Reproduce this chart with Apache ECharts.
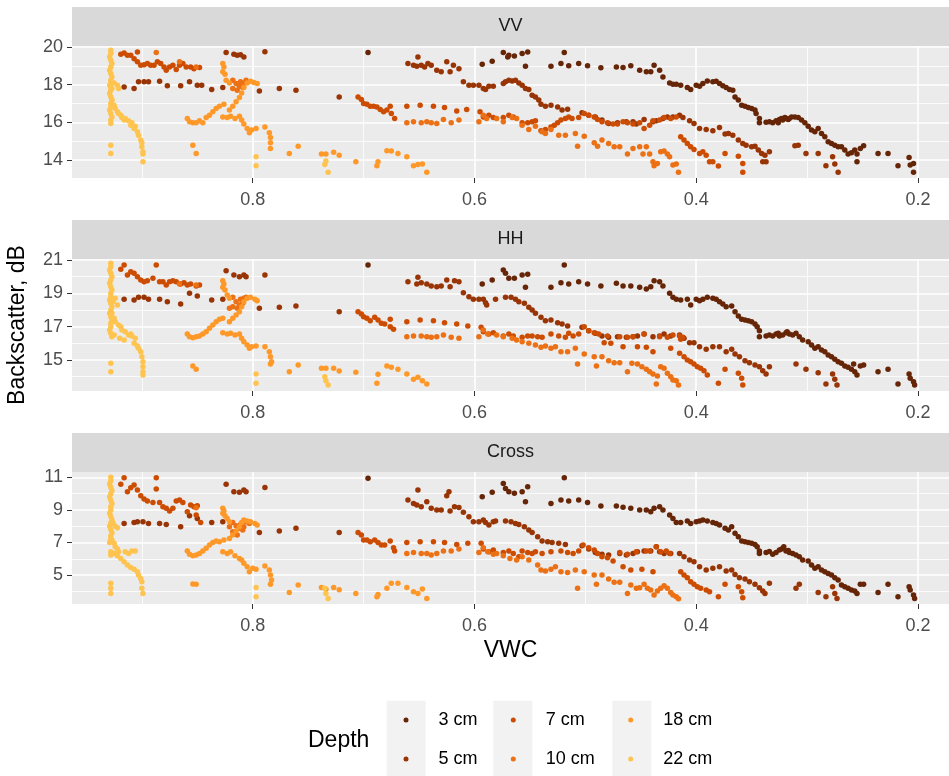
<!DOCTYPE html>
<html>
<head>
<meta charset="utf-8">
<title>Backscatter vs VWC</title>
<script src="https://cdn.jsdelivr.net/npm/echarts@6/dist/echarts.min.js"></script>
<style>
  html, body { margin: 0; padding: 0; background: #fff; }
  #main { width: 949px; height: 776px; }
</style>
</head>
<body>
<div id="main"></div>
<script>
// ---- VV panel: [VWC, backscatter dB] per depth
var vv3 = [[0.696,19.70],[0.593,19.08],[0.584,19.24],[0.574,19.70],[0.570,19.47],[0.569,19.56],[0.564,19.52],[0.557,19.65],[0.552,19.73],[0.554,18.98],[0.531,18.98],[0.522,19.12],[0.519,19.70],[0.515,19.00],[0.506,19.12],[0.498,19.00],[0.486,18.89],[0.472,18.94],[0.466,18.91],[0.459,19.00],[0.451,18.76],[0.445,18.68],[0.441,18.68],[0.438,19.03],[0.433,18.76],[0.430,18.41],[0.424,18.09],[0.421,18.02],[0.418,18.02],[0.414,17.97],[0.408,17.85],[0.405,17.74],[0.400,17.97],[0.397,17.92],[0.394,18.06],[0.390,18.20],[0.385,18.15],[0.382,18.18],[0.379,18.06],[0.376,17.94],[0.373,17.85],[0.370,17.74],[0.367,17.71],[0.365,17.35],[0.362,17.18],[0.359,16.91],[0.356,16.86],[0.353,16.79],[0.350,16.74],[0.347,16.65],[0.346,16.47],[0.343,16.21],[0.343,15.98],[0.337,16.00],[0.334,16.03],[0.331,15.98],[0.328,16.08],[0.326,15.98],[0.325,16.15],[0.323,16.21],[0.322,16.12],[0.320,16.26],[0.319,16.21],[0.317,16.15],[0.316,16.21],[0.314,16.29],[0.311,16.29],[0.308,16.26],[0.305,16.12],[0.302,15.98],[0.299,15.80],[0.296,15.59],[0.293,15.50],[0.290,15.68],[0.287,15.41],[0.284,15.24],[0.281,14.97],[0.278,14.88],[0.275,14.79],[0.272,14.71],[0.269,14.71],[0.266,14.53],[0.263,14.32],[0.260,14.39],[0.257,14.53],[0.255,14.32],[0.252,14.62],[0.249,14.76],[0.255,13.91],[0.236,14.35],[0.227,14.35],[0.218,13.70],[0.208,14.14],[0.207,13.74],[0.204,13.82],[0.204,13.35]];
var vv5 = [[0.824,19.70],[0.817,19.61],[0.814,19.56],[0.811,19.59],[0.808,19.47],[0.789,19.74],[0.916,17.88],[0.907,17.79],[0.903,18.15],[0.898,18.15],[0.894,18.15],[0.884,18.18],[0.877,17.94],[0.865,17.94],[0.857,18.15],[0.850,17.97],[0.846,17.97],[0.837,17.74],[0.827,17.85],[0.794,17.67],[0.776,17.79],[0.761,17.71],[0.722,17.35],[0.660,19.12],[0.655,19.03],[0.651,19.47],[0.652,18.98],[0.648,19.03],[0.645,18.94],[0.642,19.12],[0.639,19.03],[0.634,18.76],[0.630,18.68],[0.625,19.21],[0.622,18.68],[0.619,19.03],[0.614,18.85],[0.610,18.15],[0.605,17.97],[0.601,17.97],[0.596,17.97],[0.592,17.79],[0.587,17.92],[0.583,17.92],[0.574,18.06],[0.590,17.74],[0.572,18.15],[0.569,18.24],[0.566,18.20],[0.563,18.24],[0.560,18.09],[0.557,17.97],[0.554,17.79],[0.551,17.74],[0.548,17.44],[0.545,17.35],[0.542,17.18],[0.540,16.96],[0.536,16.86],[0.531,16.91],[0.525,16.82],[0.521,16.65],[0.516,16.70],[0.503,16.51],[0.497,16.38],[0.491,16.29],[0.485,16.12],[0.479,15.94],[0.471,15.98],[0.463,16.03],[0.457,16.03],[0.454,15.91],[0.447,16.15],[0.439,16.03],[0.436,16.08],[0.430,16.21],[0.426,16.29],[0.421,16.29],[0.415,16.38],[0.412,16.26],[0.406,16.08],[0.402,15.94],[0.397,15.68],[0.391,15.62],[0.385,15.55],[0.379,15.73],[0.374,15.38],[0.371,15.41],[0.367,15.32],[0.362,15.06],[0.358,14.88],[0.355,14.79],[0.350,14.71],[0.347,14.74],[0.344,14.53],[0.341,14.35],[0.338,14.26],[0.334,14.44],[0.340,13.91],[0.337,13.91],[0.311,14.76],[0.308,14.79],[0.301,14.35],[0.290,14.35],[0.283,13.70],[0.277,14.18],[0.275,13.79],[0.272,13.35]];
var vv7 = [[0.919,19.61],[0.916,19.68],[0.913,19.56],[0.910,19.56],[0.907,19.38],[0.904,19.73],[0.904,19.21],[0.901,19.03],[0.898,19.06],[0.895,19.12],[0.892,19.03],[0.889,19.03],[0.886,19.21],[0.883,19.12],[0.880,18.94],[0.878,18.76],[0.875,18.94],[0.872,19.03],[0.869,18.80],[0.866,19.03],[0.863,19.12],[0.860,18.94],[0.856,18.94],[0.853,18.85],[0.848,18.91],[0.705,17.35],[0.702,17.21],[0.700,17.00],[0.697,16.96],[0.694,16.86],[0.691,16.86],[0.688,16.82],[0.685,16.68],[0.682,16.56],[0.679,16.65],[0.676,16.86],[0.675,16.47],[0.672,16.21],[0.661,16.86],[0.649,16.91],[0.637,16.86],[0.627,16.79],[0.616,16.60],[0.607,16.68],[0.595,16.56],[0.592,16.29],[0.587,16.38],[0.583,16.26],[0.574,16.26],[0.569,16.38],[0.565,16.29],[0.557,15.98],[0.552,15.98],[0.548,16.03],[0.545,16.08],[0.540,15.55],[0.536,15.62],[0.531,15.76],[0.528,15.85],[0.525,15.98],[0.522,16.12],[0.518,16.21],[0.515,16.29],[0.512,16.21],[0.506,16.26],[0.501,16.47],[0.497,16.38],[0.492,16.29],[0.489,16.15],[0.485,16.03],[0.480,15.98],[0.475,15.91],[0.471,15.91],[0.466,16.03],[0.462,15.98],[0.457,15.91],[0.451,15.98],[0.447,15.68],[0.442,15.85],[0.439,16.08],[0.433,16.12],[0.429,16.26],[0.423,16.21],[0.418,16.29],[0.414,15.24],[0.411,15.06],[0.408,14.88],[0.405,14.71],[0.402,14.56],[0.397,14.35],[0.394,14.44],[0.391,14.26],[0.388,13.91],[0.385,13.91],[0.380,13.68],[0.374,14.35],[0.362,14.21],[0.358,13.82],[0.358,13.35]];
var vv10 = [[0.818,18.24],[0.815,18.06],[0.812,17.92],[0.811,18.15],[0.809,17.85],[0.808,18.06],[0.806,18.24],[0.814,17.71],[0.818,17.79],[0.887,19.70],[0.866,19.21],[0.851,18.94],[0.661,15.98],[0.655,16.03],[0.648,15.98],[0.643,16.03],[0.639,15.98],[0.634,15.94],[0.628,16.15],[0.621,15.98],[0.614,16.12],[0.596,16.03],[0.592,16.38],[0.589,16.21],[0.580,16.21],[0.574,16.03],[0.566,16.26],[0.562,16.21],[0.557,15.85],[0.551,15.62],[0.545,15.80],[0.539,15.50],[0.536,15.41],[0.531,15.62],[0.524,15.32],[0.518,15.32],[0.509,15.41],[0.507,14.74],[0.501,15.27],[0.492,14.92],[0.489,14.74],[0.485,15.06],[0.479,14.88],[0.474,14.71],[0.469,14.71],[0.462,14.32],[0.457,14.62],[0.451,14.71],[0.448,14.32],[0.445,14.71],[0.442,14.32],[0.439,13.91],[0.438,13.70],[0.435,13.82],[0.432,14.44],[0.429,14.48],[0.426,14.32],[0.424,14.18],[0.421,13.74],[0.418,13.79],[0.416,13.35]];
var vv18 = [[0.854,14.79],[0.851,14.35],[0.859,16.20],[0.857,16.03],[0.854,15.98],[0.851,15.98],[0.848,16.08],[0.845,15.98],[0.842,16.26],[0.839,16.38],[0.836,16.56],[0.833,16.74],[0.830,16.86],[0.826,16.96],[0.821,16.65],[0.818,16.86],[0.815,17.09],[0.812,17.32],[0.810,17.56],[0.808,17.85],[0.805,18.09],[0.802,18.18],[0.799,18.11],[0.796,18.06],[0.827,16.29],[0.823,16.26],[0.820,16.33],[0.816,16.21],[0.812,16.33],[0.810,16.12],[0.808,15.91],[0.805,15.68],[0.803,15.45],[0.801,15.59],[0.797,15.68],[0.789,15.76],[0.785,15.45],[0.784,15.20],[0.784,14.92],[0.784,14.62],[0.767,14.35],[0.759,14.74],[0.738,14.32],[0.734,14.32],[0.727,14.42],[0.722,14.26],[0.707,13.91],[0.688,13.70],[0.687,13.91],[0.679,14.49],[0.675,14.48],[0.669,14.35],[0.661,14.18],[0.655,13.70],[0.651,13.77],[0.647,13.79],[0.643,13.35],[0.827,19.12],[0.826,18.94],[0.827,18.68],[0.825,18.55],[0.824,18.24],[0.821,18.09]];
var vv22 = [[0.928,19.82],[0.928,19.65],[0.929,19.47],[0.928,19.29],[0.927,19.12],[0.928,18.94],[0.929,18.76],[0.928,18.59],[0.927,18.41],[0.928,18.24],[0.928,18.06],[0.929,17.97],[0.928,17.88],[0.927,17.79],[0.928,17.71],[0.929,17.53],[0.928,17.35],[0.927,17.18],[0.928,17.00],[0.928,16.82],[0.929,16.65],[0.928,16.47],[0.927,16.29],[0.928,16.12],[0.928,15.94],[0.928,14.79],[0.928,14.35],[0.925,18.09],[0.922,17.97],[0.921,17.79],[0.927,17.18],[0.925,16.91],[0.924,16.74],[0.922,16.56],[0.921,16.47],[0.919,16.38],[0.918,16.26],[0.916,16.12],[0.915,16.21],[0.912,16.08],[0.910,15.85],[0.909,15.98],[0.907,15.68],[0.906,15.80],[0.904,15.50],[0.903,15.32],[0.901,15.06],[0.900,14.92],[0.900,14.71],[0.899,14.44],[0.899,14.32],[0.899,13.91],[0.797,14.18],[0.797,13.70],[0.735,13.77],[0.734,13.95],[0.732,13.35]];

// ---- HH panel
var hh3 = [[0.696,20.70],[0.593,19.56],[0.584,19.80],[0.574,20.40],[0.572,20.20],[0.569,19.90],[0.564,19.90],[0.557,20.10],[0.552,20.14],[0.554,19.36],[0.531,19.36],[0.522,19.64],[0.519,20.70],[0.515,19.56],[0.506,19.70],[0.498,19.56],[0.486,19.44],[0.472,19.60],[0.466,19.44],[0.459,19.44],[0.451,19.36],[0.445,19.26],[0.441,19.40],[0.438,19.76],[0.433,19.70],[0.430,19.44],[0.424,19.00],[0.421,18.76],[0.418,18.64],[0.414,18.60],[0.408,18.64],[0.405,18.30],[0.400,18.64],[0.397,18.56],[0.394,18.64],[0.390,18.76],[0.385,18.70],[0.382,18.64],[0.379,18.50],[0.376,18.36],[0.373,18.20],[0.368,18.24],[0.365,17.90],[0.362,17.64],[0.359,17.44],[0.356,17.40],[0.353,17.36],[0.350,17.30],[0.347,17.16],[0.345,17.00],[0.343,16.76],[0.343,16.40],[0.337,16.44],[0.334,16.50],[0.331,16.44],[0.328,16.56],[0.326,16.60],[0.325,16.44],[0.322,16.50],[0.319,16.64],[0.318,16.70],[0.316,16.56],[0.313,16.50],[0.310,16.60],[0.307,16.40],[0.304,16.20],[0.299,16.10],[0.296,15.90],[0.293,15.70],[0.290,15.80],[0.287,15.60],[0.284,15.50],[0.281,15.30],[0.278,15.20],[0.275,15.04],[0.272,14.90],[0.269,14.80],[0.266,14.64],[0.263,14.56],[0.260,14.44],[0.257,14.30],[0.255,14.10],[0.258,14.76],[0.252,14.64],[0.249,14.70],[0.236,14.30],[0.227,14.44],[0.218,13.56],[0.208,14.16],[0.207,13.90],[0.204,13.70],[0.203,13.50]];
var hh5 = [[0.824,20.36],[0.817,20.10],[0.812,20.00],[0.808,20.10],[0.806,20.00],[0.789,20.10],[0.916,18.64],[0.907,18.60],[0.903,18.76],[0.898,18.76],[0.894,18.64],[0.884,18.64],[0.877,18.50],[0.865,18.36],[0.857,19.00],[0.850,18.84],[0.837,18.60],[0.827,18.64],[0.794,18.10],[0.776,18.16],[0.761,18.24],[0.722,17.90],[0.660,19.70],[0.651,19.96],[0.652,19.56],[0.648,19.64],[0.643,19.56],[0.639,19.44],[0.634,19.40],[0.630,19.44],[0.625,19.80],[0.622,19.40],[0.618,19.76],[0.614,19.70],[0.610,19.04],[0.605,18.80],[0.601,18.64],[0.596,18.64],[0.592,18.64],[0.589,18.30],[0.590,18.44],[0.581,18.64],[0.572,18.76],[0.567,18.76],[0.563,18.64],[0.560,18.50],[0.555,18.40],[0.551,18.16],[0.548,18.00],[0.545,17.80],[0.540,17.56],[0.536,17.36],[0.531,17.40],[0.525,17.24],[0.521,17.16],[0.516,17.04],[0.503,16.96],[0.497,16.76],[0.491,16.60],[0.485,16.44],[0.479,16.36],[0.471,16.40],[0.463,16.36],[0.457,16.40],[0.453,16.44],[0.447,16.56],[0.439,16.40],[0.433,16.44],[0.429,16.56],[0.423,16.44],[0.415,16.50],[0.411,16.30],[0.406,16.04],[0.402,16.04],[0.397,15.80],[0.391,15.64],[0.385,15.80],[0.379,15.80],[0.373,15.50],[0.368,15.64],[0.365,15.36],[0.361,15.20],[0.356,14.96],[0.352,14.84],[0.347,14.70],[0.343,14.60],[0.340,14.36],[0.337,14.16],[0.334,14.60],[0.310,14.76],[0.301,14.44],[0.290,14.24],[0.283,13.56],[0.277,14.16],[0.275,13.84],[0.273,13.50]];
var hh7 = [[0.919,20.44],[0.916,20.70],[0.913,20.10],[0.910,20.30],[0.907,20.20],[0.904,20.00],[0.901,19.80],[0.898,19.70],[0.895,19.76],[0.890,19.90],[0.887,20.70],[0.884,19.70],[0.881,19.70],[0.878,19.50],[0.875,19.70],[0.872,19.76],[0.869,19.70],[0.865,19.56],[0.862,19.64],[0.859,19.50],[0.856,19.56],[0.851,19.44],[0.848,19.50],[0.705,17.90],[0.702,17.76],[0.700,17.60],[0.697,17.50],[0.694,17.36],[0.690,17.56],[0.687,17.40],[0.684,17.20],[0.681,17.16],[0.676,17.00],[0.673,16.84],[0.676,17.44],[0.661,17.30],[0.649,17.40],[0.637,17.36],[0.627,17.24],[0.616,17.16],[0.606,17.04],[0.594,16.96],[0.592,16.70],[0.587,16.56],[0.583,16.64],[0.574,16.44],[0.569,16.56],[0.565,16.44],[0.557,16.36],[0.552,16.44],[0.548,16.44],[0.543,16.40],[0.539,16.36],[0.531,16.56],[0.524,16.44],[0.518,16.36],[0.515,16.60],[0.511,16.44],[0.506,16.56],[0.501,17.00],[0.497,16.76],[0.492,16.64],[0.488,16.56],[0.483,16.04],[0.480,16.44],[0.477,16.00],[0.469,16.40],[0.466,15.80],[0.462,16.36],[0.457,16.40],[0.453,15.80],[0.447,16.56],[0.445,15.76],[0.439,15.50],[0.433,16.40],[0.426,16.36],[0.423,15.70],[0.421,16.50],[0.415,16.44],[0.414,16.24],[0.412,16.36],[0.415,15.40],[0.411,15.20],[0.408,15.00],[0.405,14.90],[0.402,14.76],[0.399,14.60],[0.396,14.50],[0.393,14.36],[0.390,14.10],[0.374,14.44],[0.362,14.20],[0.359,13.90],[0.358,13.50],[0.380,13.60]];
var hh10 = [[0.818,18.76],[0.815,18.50],[0.812,18.30],[0.811,18.64],[0.809,18.40],[0.808,18.70],[0.806,18.76],[0.814,18.10],[0.818,18.20],[0.821,18.10],[0.866,19.56],[0.851,19.50],[0.661,16.40],[0.655,16.44],[0.648,16.44],[0.643,16.40],[0.639,16.36],[0.634,16.40],[0.628,16.50],[0.621,16.36],[0.614,16.30],[0.596,16.40],[0.592,16.80],[0.588,16.56],[0.580,16.50],[0.574,16.40],[0.566,16.30],[0.562,16.20],[0.557,16.10],[0.551,16.00],[0.545,15.90],[0.540,15.76],[0.536,15.84],[0.531,15.70],[0.527,15.80],[0.522,15.50],[0.516,15.50],[0.509,15.70],[0.507,14.76],[0.501,15.36],[0.492,15.20],[0.490,14.64],[0.485,15.20],[0.479,14.96],[0.474,14.84],[0.469,14.84],[0.462,14.30],[0.458,14.80],[0.453,14.76],[0.449,14.60],[0.445,14.44],[0.442,14.30],[0.439,14.16],[0.436,13.56],[0.435,14.04],[0.432,14.60],[0.429,14.50],[0.426,14.20],[0.423,14.00],[0.421,13.80],[0.418,13.76],[0.416,13.50]];
var hh18 = [[0.854,14.64],[0.851,14.44],[0.859,16.56],[0.857,16.40],[0.854,16.34],[0.851,16.40],[0.848,16.44],[0.845,16.56],[0.842,16.70],[0.839,16.90],[0.836,17.10],[0.833,17.30],[0.830,17.44],[0.827,17.50],[0.821,17.30],[0.818,17.50],[0.815,17.70],[0.812,17.90],[0.810,18.20],[0.808,18.50],[0.805,18.70],[0.802,18.76],[0.798,18.64],[0.796,18.56],[0.827,16.64],[0.823,16.56],[0.820,16.60],[0.816,16.50],[0.812,16.56],[0.810,16.30],[0.808,16.10],[0.805,15.90],[0.803,15.70],[0.801,15.80],[0.797,15.84],[0.789,15.80],[0.785,15.50],[0.784,15.20],[0.783,14.90],[0.784,14.76],[0.767,14.30],[0.759,14.70],[0.738,14.50],[0.734,14.50],[0.727,14.50],[0.722,14.34],[0.707,14.26],[0.688,13.60],[0.687,14.14],[0.679,14.64],[0.675,14.56],[0.669,14.44],[0.661,14.16],[0.655,13.84],[0.651,13.96],[0.647,13.76],[0.643,13.56],[0.827,19.76],[0.826,19.56],[0.827,19.36],[0.825,19.20],[0.823,18.90],[0.821,18.70]];
var hh22 = [[0.928,20.80],[0.928,20.60],[0.929,20.40],[0.928,20.20],[0.927,20.00],[0.928,19.80],[0.929,19.60],[0.928,19.40],[0.927,19.20],[0.928,19.00],[0.928,18.80],[0.929,18.60],[0.928,18.40],[0.927,18.20],[0.928,18.00],[0.929,17.80],[0.928,17.60],[0.927,17.40],[0.928,17.20],[0.928,17.00],[0.929,16.80],[0.928,16.60],[0.927,16.40],[0.928,14.80],[0.928,14.30],[0.924,18.70],[0.926,18.50],[0.922,18.30],[0.927,17.80],[0.925,17.50],[0.924,17.30],[0.921,17.10],[0.919,17.00],[0.918,16.80],[0.915,16.70],[0.912,16.50],[0.909,16.44],[0.910,16.56],[0.906,16.30],[0.907,16.00],[0.904,15.84],[0.903,15.70],[0.901,15.50],[0.900,15.20],[0.899,14.90],[0.899,14.60],[0.899,14.30],[0.899,14.10],[0.925,16.50],[0.920,16.30],[0.916,16.20],[0.797,14.16],[0.797,13.60],[0.735,14.00],[0.734,13.76],[0.732,13.50]];

// ---- Cross panel
var cr3 = [[0.696,10.94],[0.593,9.81],[0.584,10.08],[0.574,10.63],[0.572,10.32],[0.569,10.12],[0.564,10.02],[0.557,10.12],[0.552,10.43],[0.554,9.50],[0.531,9.40],[0.522,9.61],[0.519,10.98],[0.515,9.55],[0.506,9.61],[0.498,9.46],[0.486,9.24],[0.472,9.24],[0.466,9.16],[0.459,9.10],[0.451,8.99],[0.445,8.99],[0.441,8.89],[0.438,9.10],[0.433,9.20],[0.430,8.99],[0.424,8.69],[0.421,8.48],[0.418,8.23],[0.414,8.23],[0.408,8.32],[0.405,8.17],[0.400,8.28],[0.397,8.32],[0.394,8.38],[0.390,8.32],[0.385,8.23],[0.382,8.17],[0.379,8.07],[0.374,7.87],[0.371,7.76],[0.368,7.97],[0.365,7.56],[0.362,7.35],[0.359,7.09],[0.356,7.05],[0.353,7.00],[0.350,6.95],[0.347,6.88],[0.345,6.74],[0.343,6.48],[0.343,6.33],[0.337,6.39],[0.334,6.45],[0.331,6.27],[0.328,6.39],[0.325,6.54],[0.323,6.60],[0.321,6.74],[0.319,6.48],[0.317,6.50],[0.316,6.39],[0.313,6.33],[0.310,6.23],[0.307,6.13],[0.304,5.92],[0.299,5.86],[0.296,5.62],[0.293,5.41],[0.290,5.51],[0.287,5.31],[0.284,5.20],[0.281,5.10],[0.278,5.00],[0.275,4.84],[0.272,4.69],[0.269,4.38],[0.266,4.28],[0.263,4.18],[0.260,4.08],[0.257,4.02],[0.255,3.87],[0.252,4.43],[0.249,4.43],[0.236,3.93],[0.227,4.43],[0.218,3.67],[0.208,4.28],[0.207,4.08],[0.204,3.77],[0.203,3.56]];
var cr5 = [[0.824,10.57],[0.817,10.12],[0.812,10.08],[0.808,10.22],[0.806,10.12],[0.789,10.38],[0.916,8.17],[0.907,8.23],[0.904,8.28],[0.899,8.28],[0.894,8.17],[0.884,8.17],[0.878,8.11],[0.865,7.97],[0.857,8.64],[0.850,8.48],[0.837,8.23],[0.827,8.28],[0.794,7.62],[0.776,7.70],[0.761,7.87],[0.722,7.62],[0.660,9.61],[0.655,9.40],[0.651,10.22],[0.652,9.30],[0.648,9.20],[0.643,9.50],[0.639,9.10],[0.634,8.99],[0.630,8.99],[0.625,9.87],[0.623,10.12],[0.622,8.93],[0.618,9.20],[0.614,9.15],[0.610,8.85],[0.605,8.58],[0.601,8.28],[0.596,8.28],[0.592,8.38],[0.587,8.07],[0.583,8.28],[0.590,8.23],[0.581,8.32],[0.572,8.32],[0.567,8.28],[0.563,8.17],[0.560,8.11],[0.555,7.97],[0.551,7.76],[0.548,7.62],[0.543,7.35],[0.539,7.09],[0.534,7.05],[0.530,7.00],[0.524,6.95],[0.518,6.88],[0.503,6.80],[0.497,6.60],[0.491,6.39],[0.485,6.27],[0.479,6.23],[0.469,6.33],[0.463,6.23],[0.457,6.33],[0.453,6.43],[0.447,6.48],[0.441,6.48],[0.436,6.74],[0.433,6.43],[0.429,6.33],[0.423,6.33],[0.415,6.33],[0.411,6.13],[0.406,5.92],[0.402,5.82],[0.397,5.51],[0.391,5.31],[0.385,5.41],[0.379,5.51],[0.373,5.25],[0.368,5.31],[0.365,5.04],[0.361,4.84],[0.356,4.75],[0.352,4.59],[0.347,4.43],[0.343,4.22],[0.340,4.02],[0.338,3.87],[0.334,4.49],[0.310,4.18],[0.307,4.43],[0.290,3.93],[0.283,3.67],[0.277,4.28],[0.275,3.87],[0.273,3.56]];
var cr7 = [[0.919,10.57],[0.916,10.98],[0.913,10.12],[0.910,10.36],[0.907,10.53],[0.904,10.22],[0.901,9.87],[0.898,9.67],[0.895,9.55],[0.890,9.46],[0.887,10.98],[0.887,10.28],[0.884,9.46],[0.881,9.20],[0.878,9.10],[0.875,8.93],[0.872,9.10],[0.869,9.55],[0.866,9.61],[0.863,9.46],[0.859,8.89],[0.856,9.30],[0.853,9.20],[0.850,9.26],[0.851,8.69],[0.847,8.23],[0.705,7.62],[0.702,7.46],[0.700,7.15],[0.697,7.15],[0.694,7.05],[0.690,7.15],[0.687,7.00],[0.684,6.84],[0.681,6.84],[0.676,7.09],[0.673,6.68],[0.672,6.48],[0.661,7.00],[0.649,7.05],[0.637,7.05],[0.627,7.00],[0.616,6.88],[0.606,6.95],[0.594,6.95],[0.592,6.60],[0.587,6.43],[0.583,6.54],[0.574,6.39],[0.569,6.48],[0.565,6.33],[0.560,6.13],[0.557,6.48],[0.552,6.39],[0.548,6.33],[0.545,6.43],[0.539,6.33],[0.531,6.43],[0.522,6.48],[0.516,6.39],[0.511,6.33],[0.506,6.48],[0.502,6.84],[0.497,6.68],[0.492,6.54],[0.489,6.33],[0.485,6.13],[0.480,6.06],[0.475,5.86],[0.469,6.39],[0.466,5.51],[0.462,6.27],[0.459,5.31],[0.454,6.43],[0.449,5.36],[0.445,6.48],[0.442,6.48],[0.439,5.20],[0.436,6.74],[0.432,6.43],[0.427,6.48],[0.424,6.33],[0.414,5.20],[0.411,5.00],[0.408,4.84],[0.405,4.59],[0.402,4.43],[0.399,4.28],[0.396,4.18],[0.391,4.08],[0.388,3.97],[0.374,4.43],[0.362,4.28],[0.359,3.97],[0.358,3.60],[0.380,3.67]];
var cr10 = [[0.818,8.23],[0.815,8.03],[0.812,7.87],[0.811,8.11],[0.809,7.76],[0.808,7.97],[0.806,8.28],[0.814,7.46],[0.818,7.66],[0.821,7.97],[0.803,8.17],[0.851,9.14],[0.661,6.33],[0.655,6.39],[0.648,6.33],[0.643,6.33],[0.639,6.23],[0.634,6.33],[0.628,6.48],[0.621,6.48],[0.614,6.60],[0.596,6.39],[0.592,6.68],[0.588,6.43],[0.583,6.27],[0.580,6.33],[0.574,6.18],[0.568,6.02],[0.562,5.92],[0.557,6.13],[0.551,5.92],[0.543,5.62],[0.540,5.31],[0.536,5.25],[0.531,5.36],[0.527,5.51],[0.522,5.20],[0.516,5.16],[0.509,5.31],[0.507,4.18],[0.501,5.20],[0.492,5.00],[0.490,4.43],[0.485,5.00],[0.479,4.75],[0.474,4.55],[0.469,4.55],[0.462,3.87],[0.459,4.38],[0.454,4.18],[0.451,4.22],[0.447,4.43],[0.444,4.18],[0.441,4.08],[0.438,3.77],[0.435,4.02],[0.432,4.18],[0.429,4.34],[0.426,4.18],[0.423,3.93],[0.421,3.77],[0.418,3.67],[0.416,3.54]];
var cr18 = [[0.854,4.45],[0.851,4.43],[0.859,6.48],[0.857,6.27],[0.854,6.18],[0.851,6.23],[0.848,6.33],[0.845,6.48],[0.842,6.64],[0.839,6.84],[0.836,7.00],[0.833,7.09],[0.830,7.05],[0.826,7.15],[0.821,7.25],[0.818,7.46],[0.815,7.70],[0.812,7.97],[0.810,8.23],[0.808,8.38],[0.805,8.32],[0.802,8.28],[0.798,8.17],[0.796,8.07],[0.827,6.43],[0.823,6.33],[0.820,6.43],[0.816,6.18],[0.812,6.02],[0.810,5.92],[0.808,5.72],[0.805,5.51],[0.803,5.20],[0.800,5.41],[0.797,5.36],[0.789,5.56],[0.785,5.31],[0.784,5.00],[0.783,4.69],[0.784,4.43],[0.767,3.93],[0.759,4.38],[0.738,4.23],[0.734,4.13],[0.727,4.23],[0.722,4.10],[0.707,3.87],[0.688,3.67],[0.687,3.81],[0.679,4.18],[0.675,4.49],[0.669,4.49],[0.661,4.24],[0.655,3.97],[0.651,3.87],[0.647,4.14],[0.643,3.56],[0.827,9.10],[0.826,8.93],[0.827,8.79],[0.825,8.64],[0.823,8.48],[0.821,8.28]];
var cr22 = [[0.928,11.00],[0.928,10.80],[0.929,10.60],[0.928,10.40],[0.927,10.20],[0.928,10.00],[0.929,9.80],[0.928,9.60],[0.927,9.40],[0.928,9.20],[0.928,9.00],[0.929,8.80],[0.928,8.60],[0.927,8.40],[0.928,8.20],[0.929,8.00],[0.928,7.80],[0.927,7.60],[0.928,7.40],[0.928,7.20],[0.929,7.00],[0.928,6.43],[0.928,6.23],[0.928,4.49],[0.928,4.18],[0.928,3.87],[0.927,7.15],[0.925,6.95],[0.924,6.74],[0.922,6.60],[0.921,6.43],[0.925,6.33],[0.922,6.18],[0.919,6.02],[0.916,5.82],[0.913,5.62],[0.910,5.46],[0.907,5.36],[0.904,5.20],[0.903,5.00],[0.901,4.79],[0.900,4.59],[0.900,4.18],[0.899,3.87],[0.915,6.43],[0.912,6.33],[0.909,6.48],[0.906,6.48],[0.926,8.20],[0.924,8.00],[0.922,7.90],[0.797,4.23],[0.797,3.67],[0.735,4.18],[0.734,3.87],[0.732,3.56]];

var depths = ['3 cm', '5 cm', '7 cm', '10 cm', '18 cm', '22 cm'];
var colors = ['#662506', '#993404', '#cc4c02', '#ec7014', '#fe9929', '#fec44f'];
var panels = ['VV', 'HH', 'Cross'];
var panelData = [
    [vv3, vv5, vv7, vv10, vv18, vv22],
    [hh3, hh5, hh7, hh10, hh18, hh22],
    [cr3, cr5, cr7, cr10, cr18, cr22]
];
var xTicks = [0.2, 0.4, 0.6, 0.8];
var xMinor = [0.3, 0.5, 0.7, 0.9];
var yTicks = [[14, 16, 18, 20], [15, 17, 19, 21], [5, 7, 9, 11]];
var yMinor = [[15, 17, 19], [14, 16, 18, 20], [4, 6, 8, 10]];
var yRange = [[13.05, 20.05], [13.14, 21.06], [3.22, 11.33]];
var xRange = [0.172, 0.963];

var FONT = '"Liberation Sans", Arial, Helvetica, sans-serif';
var panelTop = [46, 259, 472];
var panelH = 132;
var stripH = 39;

var grids = [], xAxes = [], yAxes = [], series = [], legends = [], graphics = [];

panels.forEach(function (p, i) {
    grids.push({
        left: 72, right: 0, top: panelTop[i], height: panelH,
        show: true, backgroundColor: '#ebebeb', borderWidth: 0
    });
    // major axes
    xAxes.push({
        type: 'value', gridIndex: i, inverse: true, position: 'bottom',
        min: xRange[0], max: xRange[1],
        axisLine: { show: false },
        axisTick: { show: true, length: 5, lineStyle: { color: '#333333' }, customValues: xTicks },
        axisLabel: { customValues: xTicks, color: '#4d4d4d', fontSize: 18, fontFamily: FONT, margin: 13 },
        splitLine: { show: true, lineStyle: { color: '#ffffff', width: 1.6 } }
    });
    yAxes.push({
        type: 'value', gridIndex: i, position: 'left',
        min: yRange[i][0], max: yRange[i][1],
        axisLine: { show: false },
        axisTick: { show: true, length: 5, lineStyle: { color: '#333333' }, customValues: yTicks[i] },
        axisLabel: { customValues: yTicks[i], color: '#4d4d4d', fontSize: 18, fontFamily: FONT, margin: 9 },
        splitLine: { show: true, lineStyle: { color: '#ffffff', width: 1.6 } }
    });
    // strip
    graphics.push({
        type: 'rect', silent: true, z: 0,
        shape: { x: 72, y: panelTop[i] - stripH, width: 877, height: stripH },
        style: { fill: '#d9d9d9' }
    });
    graphics.push({
        type: 'text', silent: true, z: 1,
        x: 510.5, y: panelTop[i] - stripH / 2,
        style: { text: p, fill: '#1a1a1a', font: '18px ' + FONT,
                 align: 'center', verticalAlign: 'middle', textAlign: 'center', textVerticalAlign: 'middle' }
    });
});

// minor grid lines (second pair of axes on each grid)
panels.forEach(function (p, i) {
    xAxes.push({
        type: 'value', gridIndex: i, inverse: true, position: 'bottom',
        min: xRange[0], max: xRange[1],
        axisLine: { show: false },
        axisTick: { show: false, customValues: xMinor },
        axisLabel: { show: false },
        splitLine: { show: true, lineStyle: { color: '#ffffff', width: 0.8 } }
    });
    yAxes.push({
        type: 'value', gridIndex: i, position: 'left',
        min: yRange[i][0], max: yRange[i][1],
        axisLine: { show: false },
        axisTick: { show: false, customValues: yMinor[i] },
        axisLabel: { show: false },
        splitLine: { show: true, lineStyle: { color: '#ffffff', width: 0.8 } }
    });
});

panels.forEach(function (p, i) {
    depths.forEach(function (d, j) {
        series.push({
            type: 'scatter', name: d,
            xAxisIndex: i, yAxisIndex: i,
            data: panelData[i][j],
            symbol: 'circle', symbolSize: 5.5,
            itemStyle: { color: colors[j], opacity: 1 },
            silent: true
        });
    });
});

// legend: key backgrounds + one legend per entry
var keyX = [386.7, 493.3, 612.3];
var dotX = [406, 513.3, 630.7];
var dotY = [720, 759];
keyX.forEach(function (x) {
    graphics.push({
        type: 'rect', silent: true, z: 0,
        shape: { x: x, y: 700.7, width: 39, height: 78 },
        style: { fill: '#f2f2f2' }
    });
});
depths.forEach(function (d, k) {
    var col = Math.floor(k / 2), row = k % 2;
    legends.push({
        data: [d], orient: 'vertical', padding: 0,
        left: dotX[col] - 2.5, top: dotY[row] - 10,
        icon: 'circle', itemWidth: 5, itemHeight: 5, selectedMode: false,
        textStyle: { fontSize: 18, fontFamily: FONT, color: '#000000', lineHeight: 20, padding: [0, 0, 0, 25] }
    });
});

graphics.push({
    type: 'text', silent: true, x: 18, y: 325, rotation: Math.PI / 2,
    style: { text: 'Backscatter, dB', fill: '#000000', font: '23px ' + FONT,
             align: 'center', verticalAlign: 'middle', textAlign: 'center', textVerticalAlign: 'middle' }
});
graphics.push({
    type: 'text', silent: true, x: 510.5, y: 651,
    style: { text: 'VWC', fill: '#000000', font: '23px ' + FONT,
             align: 'center', verticalAlign: 'middle', textAlign: 'center', textVerticalAlign: 'middle' }
});
graphics.push({
    type: 'text', silent: true, x: 308, y: 741,
    style: { text: 'Depth', fill: '#000000', font: '23px ' + FONT,
             align: 'left', verticalAlign: 'middle', textAlign: 'left', textVerticalAlign: 'middle' }
});

var myChart = echarts.init(document.getElementById('main'), null, { renderer: 'canvas' });
var option = {
    backgroundColor: '#ffffff',
    animation: false,
    grid: grids,
    xAxis: xAxes,
    yAxis: yAxes,
    legend: legends,
    graphic: graphics,
    series: series
};
myChart.setOption(option);
</script>
</body>
</html>
